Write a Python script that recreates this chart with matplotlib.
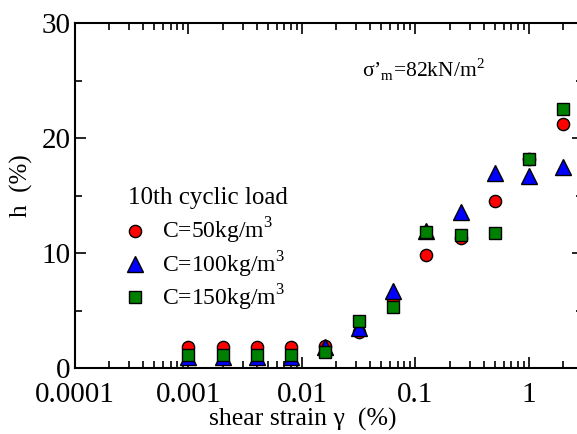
import numpy as np
import matplotlib
matplotlib.use("Agg")
import matplotlib.pyplot as plt
from matplotlib.ticker import FixedLocator, LogLocator, MultipleLocator, NullFormatter

plt.rcParams['font.family'] = ['Liberation Serif', 'DejaVu Serif']
plt.rcParams['mathtext.fontset'] = 'custom'
plt.rcParams['mathtext.rm'] = 'Liberation Serif'

# shear strain (%) and damping ratio h (%) at the 10th cyclic load
strain = [0.001, 0.002, 0.004, 0.008, 0.016, 0.032, 0.064, 0.125, 0.25, 0.5, 1.0, 2.0]
h_c50 = [1.8, 1.8, 1.8, 1.8, 1.9, 3.1, 6.0, 9.8, 11.3, 14.5, 18.2, 21.2]
h_c100 = [1.0, 1.0, 1.0, 1.0, 1.8, 3.5, 6.7, 11.9, 13.6, 17.0, 16.7, 17.5]
h_c150 = [1.1, 1.1, 1.1, 1.1, 1.4, 4.1, 5.3, 11.8, 11.6, 11.7, 18.2, 22.5]

labels = ["C=50kg/m$^3$", "C=100kg/m$^3$", "C=150kg/m$^3$"]
xticks = [0.0001, 0.001, 0.01, 0.1, 1]
xtick_labels = ["0.0001", "0.001", "0.01", "0.1", "1"]

fig = plt.figure(figsize=(5.77, 4.34), dpi=100)
# axes run a little past the right edge of the picture, like the original
ax = fig.add_axes([75/577, 66/434, 508/577, 345/434])

ax.plot(strain, h_c50, 'o', ms=8.8, mfc='#ff0000', mec='black', mew=1, label=labels[0])
ax.plot(strain, h_c100, '^', ms=11, mfc='#0000ff', mec='black', mew=1, label=labels[1])
ax.plot(strain, h_c150, 's', ms=9.2, mfc='#008000', mec='black', mew=1, label=labels[2])

ax.set_xscale('log')
ax.set_xlim(1e-4, 3.0)
ax.set_ylim(0, 30)
ax.xaxis.set_major_locator(FixedLocator(xticks))
ax.set_xticklabels(xtick_labels)
ax.xaxis.set_minor_locator(LogLocator(base=10, subs=np.arange(2, 10)))
ax.xaxis.set_minor_formatter(NullFormatter())
ax.yaxis.set_major_locator(MultipleLocator(10))
ax.yaxis.set_minor_locator(MultipleLocator(5))

ax.tick_params(which='both', direction='in', top=True, right=True, width=1.2)
ax.tick_params(which='major', length=8, labelsize=21)
ax.tick_params(axis='x', which='major', pad=10)
ax.tick_params(axis='y', which='major', pad=3)
ax.tick_params(which='minor', length=5)
for s in ax.spines.values():
    s.set_linewidth(1.5)

ax.set_xlabel("shear strain γ  (%)", fontsize=18.5)
ax.xaxis.set_label_coords(0.449, -0.116)
ax.set_ylabel("h  (%)", fontsize=18)
ax.yaxis.set_label_coords(-0.083, 0.53)

fig.text(362/577, 1 - 70/434, "σ’$_{\\rm m}$=82kN/m$^2$", fontsize=15.5,
         va='center', ha='left')

ax.text(0.104, 0.493, "10th cyclic load", fontsize=18, transform=ax.transAxes,
        va='center', ha='left')
leg = ax.legend(loc='upper left', bbox_to_anchor=(0.0906, 0.440),
                frameon=False, fontsize=17, handletextpad=0.55,
                labelspacing=0.12, borderpad=0, borderaxespad=0,
                handlelength=1.2)

fig.savefig("out.png", dpi=100)
